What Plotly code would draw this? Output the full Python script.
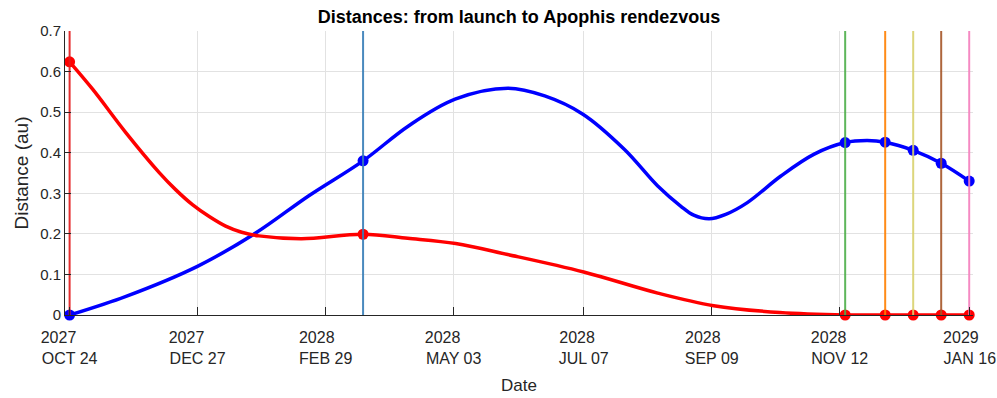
import pandas as pd
import plotly.graph_objects as go

launch_date = "2027-10-24"

# Mission events, in days after launch: launch, Earth flyby, arrival and stay points
event_days = [0, 146.7, 387.7, 407.7, 421.7, 435.7, 449.7]
event_colors = ["#E41A1C", "#377EB8", "#4DAF4A", "#FF7F00", "#D9D26E", "#A65628", "#F781BF"]
event_earth = [0.0, 0.380, 0.425, 0.426, 0.406, 0.374, 0.330]
event_apophis = [0.624, 0.199, 0.0, 0.0, 0.0, 0.0, 0.0]

# Spacecraft distance from Earth (au)
earth_days = [0, 28.2, 63.9, 93, 119.6, 146.7, 169.4, 192.7, 219.2, 237.5, 256.6, 277.4,
              294, 305.6, 312, 319.7, 328, 338.8, 355.4, 372, 387.7, 398.6, 407.7, 421.7,
              435.7, 449.7]
dist_earth = [0.0, 0.046, 0.120, 0.202, 0.294, 0.380, 0.466, 0.532, 0.559, 0.540, 0.495,
              0.408, 0.318, 0.268, 0.246, 0.237, 0.248, 0.277, 0.342, 0.396, 0.425, 0.430,
              0.426, 0.406, 0.374, 0.330]

# Spacecraft distance from Apophis (au)
apophis_days = [0, 11.6, 28.2, 44.8, 53, 61.4, 70, 78, 86, 94.7, 116, 146.7, 169, 193, 219,
                257, 294, 322, 355, 387.7, 407.7, 421.7, 435.7, 449.7]
dist_apophis = [0.624, 0.556, 0.449, 0.351, 0.309, 0.272, 0.242, 0.219, 0.204, 0.195, 0.188,
                0.199, 0.189, 0.176, 0.149, 0.106, 0.054, 0.023, 0.006, 0.0, 0.0, 0.0, 0.0, 0.0]

tick_dates = ["2027-10-24", "2027-12-27", "2028-02-29", "2028-05-03", "2028-07-07",
              "2028-09-09", "2028-11-12", "2029-01-16"]
tick_years = ["2027", "2027", "2028", "2028", "2028", "2028", "2028", "2029"]
tick_days = ["OCT 24", "DEC 27", "FEB 29", "MAY 03", "JUL 07", "SEP 09", "NOV 12", "JAN 16"]

t0 = pd.Timestamp(launch_date)


def to_dates(days):
    return [t0 + pd.to_timedelta(d, unit="D") for d in days]


# Arial-style advance widths (em) used to left-align the two label lines
CHAR_W = {"0": .556, "1": .556, "2": .556, "3": .556, "4": .556, "5": .556, "6": .556,
          "7": .556, "8": .556, "9": .556, " ": .278, "A": .667, "B": .667, "C": .722,
          "D": .722, "E": .667, "F": .611, "J": .5, "L": .556, "M": .833, "N": .722,
          "O": .778, "P": .667, "S": .667, "T": .611, "U": .722, "V": .667, "Y": .667}


def width(s):
    return sum(CHAR_W.get(c, 0.6) for c in s)


def two_line(year, md):
    pad = max(0, round((width(md) - width(year)) / 0.278))
    return year + "\u00a0" * pad + "<br>" + md


tick_text = [two_line(y, m) for y, m in zip(tick_years, tick_days)]

fig = go.Figure()

fig.add_trace(go.Scatter(
    x=to_dates(earth_days), y=dist_earth, mode="lines",
    line=dict(color="#0000FF", width=3.5, shape="spline", smoothing=1.0),
    hoverinfo="skip", showlegend=False))
fig.add_trace(go.Scatter(
    x=to_dates(apophis_days), y=dist_apophis, mode="lines",
    line=dict(color="#FF0000", width=3.5, shape="spline", smoothing=1.0),
    hoverinfo="skip", showlegend=False))

fig.add_trace(go.Scatter(
    x=to_dates(event_days), y=event_earth, mode="markers",
    marker=dict(color="#0000FF", size=11), cliponaxis=False, showlegend=False))
fig.add_trace(go.Scatter(
    x=to_dates(event_days), y=event_apophis, mode="markers",
    marker=dict(color="#FF0000", size=11), cliponaxis=False, showlegend=False))

# Vertical event markers spanning the full distance range
for d, c in zip(event_days, event_colors):
    t = t0 + pd.to_timedelta(d, unit="D")
    fig.add_trace(go.Scatter(
        x=[t, t], y=[0, 0.7], mode="lines", line=dict(color=c, width=2),
        opacity=0.9, hoverinfo="skip", showlegend=False))

x_range = [t0 - pd.to_timedelta(2.3, unit="D"), t0 + pd.to_timedelta(451.6, unit="D")]

axis_col = "#262626"
fig.update_layout(
    width=997, height=398,
    margin=dict(l=65, r=24, t=31, b=83),
    paper_bgcolor="white", plot_bgcolor="white",
    font=dict(family="Liberation Sans, Arial, sans-serif", color=axis_col),
    title=dict(text="<b>Distances: from launch to Apophis rendezvous</b>",
               font=dict(size=18, color="black"),
               x=0.5, xref="paper", xanchor="center",
               y=1 - 16.5 / 398, yref="container", yanchor="middle"),
    xaxis=dict(type="date", range=x_range, automargin=False,
               tickvals=[pd.Timestamp(s) for s in tick_dates],
               ticktext=tick_text, tickfont=dict(size=16, color=axis_col),
               ticks="inside", ticklen=8, tickcolor=axis_col, ticklabelstandoff=8,
               showline=True, linecolor=axis_col, linewidth=1, mirror=False,
               showgrid=True, gridcolor="#e2e2e2", gridwidth=1, zeroline=False,
               title=dict(text="Date", font=dict(size=17, color=axis_col), standoff=13)),
    yaxis=dict(range=[0, 0.7], tick0=0, dtick=0.1, automargin=False,
               tickfont=dict(size=15, color=axis_col),
               ticks="inside", ticklen=6, tickcolor=axis_col,
               showline=True, linecolor=axis_col, linewidth=1, mirror=False,
               showgrid=True, gridcolor="#e2e2e2", gridwidth=1, zeroline=False,
               title=dict(text="Distance (au)", font=dict(size=19, color=axis_col), standoff=6)),
)

fig.write_html("out.html")
